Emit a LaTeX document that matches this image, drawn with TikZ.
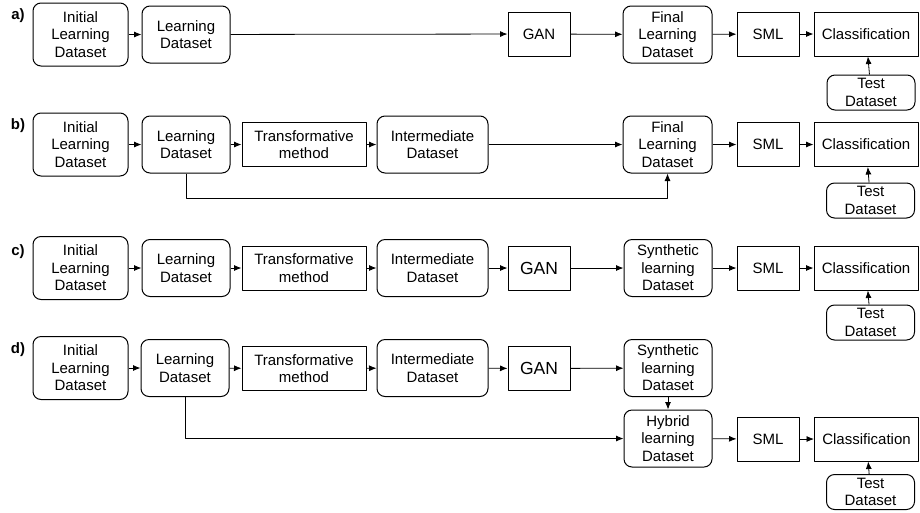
\documentclass[tikz,border=0pt]{standalone}
\usepackage{fontspec}
\setmainfont{Liberation Sans}
\usetikzlibrary{arrows.meta}
\begin{document}
\begin{tikzpicture}[x=1pt, y=-1pt, line join=round, >={Latex[length=7.5pt,width=6pt]}, font=\fontsize{15}{17.5}\selectfont,
    rbox/.style={draw, line width=1pt, rounded corners=8pt, align=center, inner sep=0pt, minimum height=57pt, minimum width=88pt},
    sbox/.style={draw, line width=1pt, align=center, inner sep=0pt, minimum height=44pt, minimum width=62pt},
    tbox/.style={rbox, minimum height=35pt},
    lab/.style={font=\fontsize{15}{17}\selectfont\bfseries},
    flow/.style={->, line width=0.8pt}]
    \useasboundingbox (0,0) rectangle (920,512);
    % a)
    \node[lab] (la) at (18,16) {a)};
    \node[rbox, minimum width=95pt, minimum height=63pt] (ia) at (80.5,34.5) {Initial\\Learning\\Dataset};
    \node[rbox] (lda) at (186,34.5) {Learning\\Dataset};
    \node[sbox] (gana) at (539,34) {GAN};
    \node[rbox, minimum width=89pt] (fa) at (667.5,34.5) {Final\\Learning\\Dataset};
    \node[sbox] (smla) at (768,34) {SML};
    \node[sbox, minimum width=104pt] (ca) at (866,34) {Classification};
    \node[tbox] (ta) at (871,92.5) {Test\\Dataset};
    \draw[flow] (ia) -- (lda);
    \draw[flow] (lda) -- (gana);
    \draw[flow] (gana) -- (fa);
    \draw[flow] (fa) -- (smla);
    \draw[flow] (smla) -- (ca);
    \draw[flow] (ta) -- (ca);
    % b)
    \node[lab] (lb) at (18,126) {b)};
    \node[rbox, minimum width=95pt, minimum height=63pt] (ib) at (80.5,144.5) {Initial\\Learning\\Dataset};
    \node[rbox] (ldb) at (186,144.5) {Learning\\Dataset};
    \node[sbox, minimum width=124pt] (trb) at (304,144.5) {Transformative\\method};
    \node[rbox, minimum width=111pt] (inb) at (432.5,144.5) {Intermediate\\Dataset};
    \node[rbox, minimum width=89pt] (fb) at (667.5,144.5) {Final\\Learning\\Dataset};
    \node[sbox] (smlb) at (768,144.5) {SML};
    \node[sbox, minimum width=104pt] (cb) at (866,144.5) {Classification};
    \node[tbox] (tb) at (870.5,200.5) {Test\\Dataset};
    \draw[flow] (ib) -- (ldb);
    \draw[flow] (ldb) -- (trb);
    \draw[flow] (trb) -- (inb);
    \draw[flow] (inb) -- (fb);
    \draw[flow] (fb) -- (smlb);
    \draw[flow] (smlb) -- (cb);
    \draw[flow] (tb) -- (cb);
    \draw[flow] (ldb.south) -- (ldb.south |- 0,198) -| (fb.south);
    % c)
    \node[lab] (lc) at (18,252) {c)};
    \node[rbox, minimum width=95pt, minimum height=63pt] (ic) at (80.5,268) {Initial\\Learning\\Dataset};
    \node[rbox] (ldc) at (186,268) {Learning\\Dataset};
    \node[sbox, minimum width=124pt] (trc) at (304,268) {Transformative\\method};
    \node[rbox, minimum width=111pt] (inc) at (432.5,268) {Intermediate\\Dataset};
    \node[sbox, font=\fontsize{17.5}{20}\selectfont] (ganc) at (539,268) {GAN};
    \node[rbox] (syc) at (668,268) {Synthetic\\learning\\Dataset};
    \node[sbox] (smlc) at (768,268) {SML};
    \node[sbox, minimum width=104pt] (cc) at (866,268) {Classification};
    \node[tbox] (tc) at (870.5,322.5) {Test\\Dataset};
    \draw[flow] (ic) -- (ldc);
    \draw[flow] (ldc) -- (trc);
    \draw[flow] (trc) -- (inc);
    \draw[flow] (inc) -- (ganc);
    \draw[flow] (ganc) -- (syc);
    \draw[flow] (syc) -- (smlc);
    \draw[flow] (smlc) -- (cc);
    \draw[flow] (tc) -- (cc);
    % d)
    \node[lab] (ld) at (18,350) {d)};
    \node[rbox, minimum width=95pt, minimum height=63pt] (id) at (80.5,368) {Initial\\Learning\\Dataset};
    \node[rbox] (ldd) at (185,368) {Learning\\Dataset};
    \node[sbox, minimum width=124pt] (trd) at (304,368.5) {Transformative\\method};
    \node[rbox, minimum width=111pt] (ind) at (432.5,368) {Intermediate\\Dataset};
    \node[sbox, font=\fontsize{17.5}{20}\selectfont] (gand) at (539,368.5) {GAN};
    \node[rbox] (syd) at (668,368) {Synthetic\\learning\\Dataset};
    \node[rbox] (hyd) at (668,438.5) {Hybrid\\learning\\Dataset};
    \node[sbox] (smld) at (768,439) {SML};
    \node[sbox, minimum width=104pt] (cd) at (866.5,439) {Classification};
    \node[tbox] (td) at (870.5,492) {Test\\Dataset};
    \draw[flow] (id) -- (ldd);
    \draw[flow] (ldd) -- (trd);
    \draw[flow] (trd) -- (ind);
    \draw[flow] (ind) -- (gand);
    \draw[flow] (gand) -- (syd);
    \draw[flow] (syd) -- (hyd);
    \draw[flow] (ldd.south) |- (hyd.west);
    \draw[flow] (hyd) -- (smld);
    \draw[flow] (smld) -- (cd);
    \draw[flow] (td) -- (cd);
\end{tikzpicture}
\end{document}
